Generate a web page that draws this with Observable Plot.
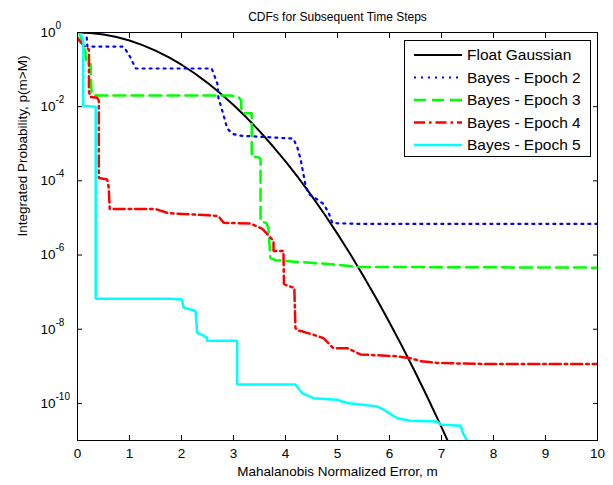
<!DOCTYPE html>
<html>
<head>
<meta charset="utf-8">
<script src="https://cdn.jsdelivr.net/npm/d3@7"></script>
<script src="https://cdn.jsdelivr.net/npm/@observablehq/plot@0.6"></script>
<style>
  html, body { margin: 0; padding: 0; background: white; }
  #wrap { position: relative; width: 613px; height: 485px; font-family: 'Liberation Sans', Arial, sans-serif; }
  #legend { position: absolute; left: 404px; top: 40px; }
</style>
</head>
<body>
<div id="wrap"></div>
<script>
// ---- data (x = Mahalanobis error m, values = log10 of p(m>M)) ----
const titleText = "CDFs for Subsequent Time Steps";
const xLabelText = "Mahalanobis Normalized Error, m";
const yLabelText = "Integrated Probability, p(m>M)";

const seriesNames = ["Float Gaussian", "Bayes - Epoch 2", "Bayes - Epoch 3", "Bayes - Epoch 4", "Bayes - Epoch 5"];
const seriesColors = ["#000000", "#0000ff", "#00ff00", "#ff0000", "#00ffff"];
const seriesDash = [null, "2 5", "12 6", "11 4 2.5 4", null];
const seriesWidth = [2, 2.2, 2.5, 2.5, 2.5];

const xTicks = [0, 1, 2, 3, 4, 5, 6, 7, 8, 9, 10];
const yTickExponents = [0, -2, -4, -6, -8, -10];

const gaussX = [0, 0.25, 0.5, 0.75, 1, 1.25, 1.5, 1.75, 2, 2.25, 2.5, 2.75, 3, 3.25, 3.5, 3.75, 4, 4.25, 4.5, 4.75, 5, 5.25, 5.5, 5.75, 6, 6.25, 6.5, 6.75, 7, 7.12];
const gaussLog = [0, -0.014, -0.054, -0.122, -0.217, -0.339, -0.489, -0.665, -0.869, -1.099, -1.357, -1.642, -1.954, -2.294, -2.66, -3.054, -3.474, -3.922, -4.397, -4.899, -5.429, -5.985, -6.569, -7.18, -7.817, -8.483, -9.175, -9.894, -10.64, -11.01];

const epoch2X = [0, 0.17, 0.19, 0.88, 0.98, 1.12, 2.58, 2.69, 2.71, 2.79, 2.88, 2.98, 3.10, 4.15, 4.23, 4.29, 4.38, 4.44, 4.62, 4.73, 4.83, 4.90, 5.44, 10];
const epoch2Log = [0, 0, -0.38, -0.38, -0.57, -0.97, -0.97, -1.38, -1.76, -2.14, -2.59, -2.73, -2.78, -2.86, -3.11, -3.41, -4.08, -4.35, -4.51, -4.62, -4.86, -5.14, -5.16, -5.16];

const epoch3X = [0, 0.05, 0.09, 0.15, 0.17, 0.25, 0.27, 0.38, 2.94, 3.10, 3.15, 3.15, 3.19, 3.35, 3.35, 3.48, 3.52, 3.52, 3.63, 3.67, 3.71, 3.81, 4.29, 4.81, 5.44, 10];
const epoch3Log = [0, -0.05, -0.35, -0.49, -0.84, -0.84, -1.65, -1.70, -1.70, -1.74, -1.84, -2.05, -2.18, -2.18, -3.35, -3.36, -3.41, -5.08, -5.14, -5.27, -6.08, -6.14, -6.19, -6.24, -6.32, -6.34];

const epoch4X = [0, 0.06, 0.12, 0.22, 0.22, 0.25, 0.38, 0.41, 0.41, 0.57, 0.60, 0.62, 1.50, 1.75, 2.52, 2.71, 2.81, 3.33, 3.44, 3.56, 3.71, 3.77, 3.77, 3.96, 3.97, 4.06, 4.17, 4.19, 4.23, 4.35, 4.54, 4.73, 4.92, 5.19, 5.44, 6.15, 6.40, 6.60, 6.92, 7.94, 10];
const epoch4Log = [-0.15, -0.26, -0.35, -0.46, -1.59, -1.74, -1.76, -1.84, -3.92, -3.96, -4.18, -4.76, -4.76, -4.87, -4.93, -4.95, -5.13, -5.15, -5.22, -5.30, -5.53, -5.62, -5.89, -5.89, -6.78, -6.84, -6.88, -7.96, -8.03, -8.07, -8.15, -8.24, -8.51, -8.51, -8.68, -8.73, -8.78, -8.86, -8.91, -8.94, -8.94];

const epoch5X = [0, 0.06, 0.11, 0.11, 0.35, 0.35, 1.79, 2.01, 2.04, 2.24, 2.27, 2.30, 2.37, 2.49, 2.49, 3.07, 3.07, 4.19, 4.32, 4.54, 4.99, 5.19, 5.76, 5.89, 6.15, 6.40, 6.92, 6.98, 7.37, 7.40, 7.49];
const epoch5Log = [0, -0.03, -0.22, -1.98, -2.0, -7.18, -7.18, -7.20, -7.42, -7.49, -7.51, -8.10, -8.14, -8.22, -8.31, -8.31, -9.49, -9.49, -9.72, -9.86, -9.90, -9.99, -10.08, -10.17, -10.40, -10.47, -10.49, -10.57, -10.60, -10.77, -11.0];

// ---- build table ----
const seriesX = [gaussX, epoch2X, epoch3X, epoch4X, epoch5X];
const seriesLog = [gaussLog, epoch2Log, epoch3Log, epoch4Log, epoch5Log];
const rows = [];
seriesNames.forEach((name, s) => {
  seriesX[s].forEach((x, i) => rows.push({series: name, x, p: Math.pow(10, seriesLog[s][i])}));
});
const yTicks = yTickExponents.map(e => Math.pow(10, e));

const font = "'Liberation Sans', Arial, sans-serif";

const lineMarks = seriesNames.map((name, s) =>
  Plot.line(rows.filter(r => r.series === name), {
    x: "x", y: "p",
    stroke: seriesColors[s],
    strokeWidth: seriesWidth[s],
    strokeDasharray: seriesDash[s] || undefined,
    strokeLinejoin: "miter",
    clip: true
  })
);

const chart = Plot.plot({
  width: 613,
  height: 485,
  marginTop: 32,
  marginRight: 16,
  marginBottom: 45,
  marginLeft: 77,
  style: {fontFamily: font, fontSize: "13.5px", background: "white", color: "black"},
  x: {domain: [0, 10]},
  y: {type: "log", domain: [1e-11, 1]},
  marks: [
    ...lineMarks,
    Plot.frame({stroke: "black", strokeWidth: 1}),
    Plot.axisX(xTicks, {anchor: "bottom", tickSize: -5, tickPadding: 12.5, label: null, tickFormat: d => String(d), fontSize: 13.5}),
    Plot.axisX(xTicks, {anchor: "top", tickSize: -5, label: null, tickFormat: () => ""}),
    Plot.axisY(yTicks, {anchor: "left", tickSize: -5, tickPadding: 42, textAnchor: "start", label: null,
      tickFormat: d => "10^" + Math.round(Math.log10(d)), fontSize: 13.5}),
    Plot.axisY(yTicks, {anchor: "right", tickSize: -5, label: null, tickFormat: () => ""}),
    Plot.text([titleText], {text: d => d, frameAnchor: "top", dy: -20, fontSize: 12}),
    Plot.text([xLabelText], {text: d => d, frameAnchor: "bottom", dy: 35, fontSize: 13.5}),
    Plot.text([yLabelText], {text: d => d, frameAnchor: "left", dx: -55, rotate: -90, fontSize: 13.5})
  ]
});

// superscript exponents on y tick labels
chart.querySelectorAll('[aria-label="y-axis tick label"] text').forEach(t => {
  const s = t.textContent;
  if (!s.includes("^")) return;
  const [base, exp] = s.split("^");
  t.textContent = "";
  const b = document.createElementNS("http://www.w3.org/2000/svg", "tspan");
  b.textContent = base;
  const e = document.createElementNS("http://www.w3.org/2000/svg", "tspan");
  e.textContent = exp;
  e.setAttribute("dy", "-8");
  e.setAttribute("font-size", "10");
  t.appendChild(b);
  t.appendChild(e);
});

const wrap = document.getElementById("wrap");
wrap.appendChild(chart);

// ---- legend (HTML/SVG overlay) ----
const lw = 188, lh = 118;
const leg = d3.select(wrap).append("svg").attr("id", "legend").attr("width", lw).attr("height", lh)
  .style("font-family", font);
leg.append("rect").attr("x", 0.5).attr("y", 0.5).attr("width", lw - 2).attr("height", lh - 2)
  .attr("fill", "white").attr("stroke", "black").attr("stroke-width", 1);
seriesNames.forEach((name, i) => {
  const y = 15 + i * 22.5;
  leg.append("line").attr("x1", 10).attr("x2", 58).attr("y1", y).attr("y2", y)
    .attr("stroke", seriesColors[i]).attr("stroke-width", seriesWidth[i])
    .attr("stroke-dasharray", seriesDash[i]);
  leg.append("text").attr("x", 63).attr("y", y).attr("dy", "0.35em")
    .attr("font-size", 15.5).attr("fill", "black").text(name);
});
</script>
</body>
</html>
